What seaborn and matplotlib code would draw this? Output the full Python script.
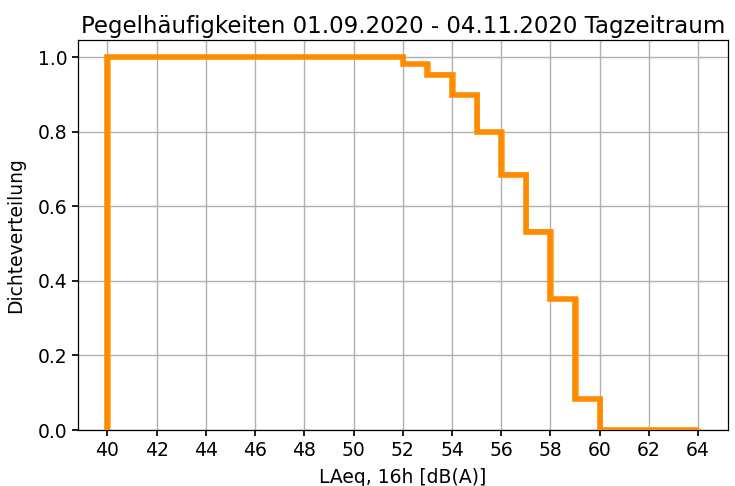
import numpy as np
import matplotlib
matplotlib.use("Agg")
import matplotlib.pyplot as plt
import matplotlib.transforms as mtransforms
import seaborn as sns

# Bin edges (dB(A)) and reverse cumulative density per bin
bin_edges = list(range(40, 65))
density = [1.0] * 12 + [0.981, 0.952, 0.898, 0.799, 0.684, 0.531, 0.351, 0.083,
                        0.0, 0.0, 0.0, 0.0]
x_ticks = list(range(40, 65, 2))
y_ticks = [0.0, 0.2, 0.4, 0.6, 0.8, 1.0]

sns.set_theme(style="ticks", rc={
    "axes.grid": True,
    "grid.color": "#b0b0b0",
    "grid.linewidth": 1.0,
    "axes.edgecolor": "black",
    "axes.linewidth": 0.9,
    "xtick.color": "black",
    "ytick.color": "black",
    "text.color": "black",
    "axes.labelcolor": "black",
    "xtick.major.size": 4,
    "ytick.major.size": 4,
})
plt.rcParams["font.family"] = ["DejaVu Sans"]

fig = plt.figure(figsize=(7.35, 4.86), dpi=100)
ax = fig.add_axes([0.106, 0.115, 0.884, 0.803])

# light thin outline, slightly offset
offset = mtransforms.offset_copy(ax.transData, fig=fig, x=1.5, y=1.5, units="dots")
ax.stairs(density, bin_edges, baseline=0, color="#ffa93f", linewidth=2.0,
          transform=offset, zorder=2)
# main thick step line
ax.stairs(density, bin_edges, baseline=0, color="darkorange", linewidth=4.0, zorder=3)

ax.set_xlim(38.8, 65.2)
ax.set_ylim(0, 1.046)
ax.set_xticks(x_ticks)
ax.set_yticks(y_ticks)
ax.set_yticklabels([f"{v:.1f}" for v in y_ticks])
ax.tick_params(labelsize=13.5)
ax.set_axisbelow(True)

ax.set_title("Pegelhäufigkeiten 01.09.2020 - 04.11.2020 Tagzeitraum", fontsize=16.5, pad=5)
ax.set_xlabel("LAeq, 16h [dB(A)]", fontsize=13.5, labelpad=6)
ax.set_ylabel("Dichteverteilung", fontsize=13.5, labelpad=9)

fig.savefig("out.png", dpi=100)
